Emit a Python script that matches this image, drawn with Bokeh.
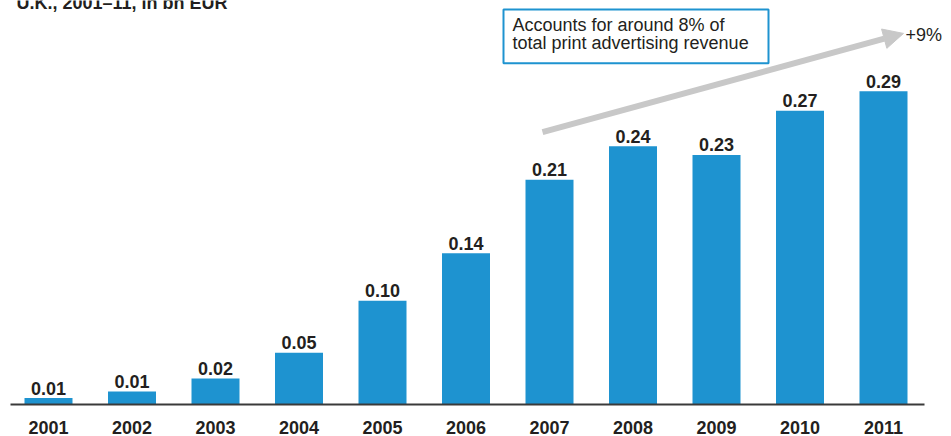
from bokeh.plotting import figure
from bokeh.models import Range1d, FixedTicker, Label, Arrow, NormalHead, ColumnDataSource, BoxAnnotation
from bokeh.embed import file_html
from bokeh.resources import INLINE
from bokeh.core.properties import value

# ---- data ----
years = [2001, 2002, 2003, 2004, 2005, 2006, 2007, 2008, 2009, 2010, 2011]
values = [0.006, 0.012, 0.024, 0.048, 0.096, 0.140, 0.208, 0.239, 0.231, 0.272, 0.290]
value_labels = ["0.01", "0.01", "0.02", "0.05", "0.10", "0.14", "0.21", "0.24", "0.23", "0.27", "0.29"]
year_labels = [str(y) for y in years]
title_text = "U.K., 2001\u201311, in bn EUR"
note_lines = ["Accounts for around 8% of", "total print advertising revenue"]
cagr_text = "+9%"

# ---- layout helpers (pixel -> data) ----
W, H = 951, 436
X0, DX = 48, 83.5      # pixel centre of first bar, pixels per year
Y0, PXU = 405, 1083    # baseline pixel row, pixels per bn EUR
FRAME_BOTTOM = 407
HALF_CAP = 6           # half cap height of 18px text

def dx(px):
    return years[0] + (px - X0) / DX

def dy(py):
    return (Y0 - py) / PXU

BLUE = "#1E93D0"
TEXT = "#231f20"
FONT = "Liberation Sans"

p = figure(width=W, height=H, output_backend="svg", toolbar_location=None,
           x_range=Range1d(dx(0), dx(W)), y_range=Range1d(dy(FRAME_BOTTOM), dy(0)),
           y_axis_location=None,
           min_border_left=0, min_border_right=0, min_border_top=0, min_border_bottom=0)
p.outline_line_color = None
p.xgrid.visible = False
p.ygrid.visible = False
p.background_fill_color = "white"
p.border_fill_color = "white"

ax = p.xaxis[0]
ax.ticker = FixedTicker(ticks=years)
ax.major_label_overrides = {y: l for y, l in zip(years, year_labels)}
ax.axis_line_color = None
ax.major_tick_line_color = None
ax.minor_tick_line_color = None
ax.major_label_standoff = 8
ax.major_label_text_font = FONT
ax.major_label_text_font_size = "18px"
ax.major_label_text_font_style = "bold"
ax.major_label_text_color = TEXT

src = ColumnDataSource(dict(year=years, value=values, label=value_labels))
p.vbar(x="year", top="value", bottom=0, width=48 / DX, source=src,
       fill_color=BLUE, line_color=None)
p.text(x="year", y="value", text="label", source=src, text_align="center",
       text_baseline="middle", y_offset=-(4 + HALF_CAP), text_font=value(FONT),
       text_font_style="bold", text_font_size="18px", text_color=TEXT)

# baseline
p.segment(x0=[dx(10)], y0=[0], x1=[dx(924)], y1=[0], line_color="#3a3a3a", line_width=2)

def label(px, baseline_py, text, bold=False):
    return Label(x=dx(px), y=dy(baseline_py - HALF_CAP), text=text, text_font=FONT,
                 text_font_style="bold" if bold else "normal", text_font_size="18px",
                 text_color=TEXT, text_baseline="middle")

# title (cropped at top in the reference)
p.add_layout(label(16, 9, title_text, bold=True))

# growth arrow
p.add_layout(Arrow(x_start=dx(542), y_start=dy(132), x_end=dx(903), y_end=dy(33),
                   line_color="#c8c8c8", line_width=6,
                   end=NormalHead(size=20, fill_color="#c8c8c8", line_color="#c8c8c8")))
p.add_layout(label(905, 41, cagr_text))

# note box
p.add_layout(BoxAnnotation(left=dx(503), right=dx(768), top=dy(9), bottom=dy(63),
                           fill_color="white", fill_alpha=1.0,
                           line_color=BLUE, line_width=2, line_alpha=1.0))
for i, line in enumerate(note_lines):
    p.add_layout(label(512, 31 + 18 * i, line))

open("out.html", "w").write(file_html(p, INLINE))
